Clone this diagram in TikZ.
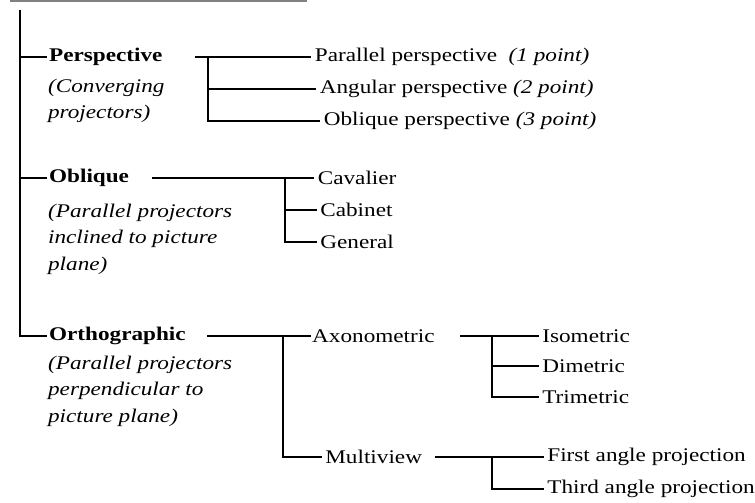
\documentclass[tikz,border=0pt]{standalone}
\usepackage{fontspec}
\setmainfont{Liberation Serif}[FakeStretch=1.2]

\begin{document}
\begin{tikzpicture}[
  font=\fontsize{11}{15}\selectfont,
  head/.style={font=\fontsize{11}{15}\selectfont\bfseries, anchor=west, inner sep=1pt},
  note/.style={font=\fontsize{11}{15}\selectfont\itshape, anchor=north west, align=left, inner sep=1pt},
  leaf/.style={anchor=west, inner sep=2pt},
  branch/.style={line width=1.4pt}
]
\useasboundingbox (0,0) rectangle (15.10,10.04);
\draw[gray, line width=0.6pt] (0.20,10.02) -- (6.14,10.02);

\node[head] (persp) at (0.94,8.90) {Perspective};
\node[note] (perspnote) at (0.92,8.50) {(Converging\\projectors)};
\node[head] (obl) at (0.94,6.48) {Oblique};
\node[note] (oblnote) at (0.92,6.00) {(Parallel projectors\\inclined to picture\\plane)};
\node[head] (ortho) at (0.94,3.32) {Orthographic};
\node[note] (orthonote) at (0.92,2.96) {(Parallel projectors\\perpendicular to\\picture plane)};

\node[leaf] (par) at (6.22,8.90) {Parallel perspective \ \textit{(1 point)}};
\node[leaf] (ang) at (6.32,8.26) {Angular perspective \textit{(2 point)}};
\node[leaf] (oblp) at (6.40,7.62) {Oblique perspective \textit{(3 point)}};
\node[leaf] (cav) at (6.28,6.48) {Cavalier};
\node[leaf] (cab) at (6.33,5.84) {Cabinet};
\node[leaf] (gen) at (6.33,5.20) {General};
\node[leaf, inner sep=0.5pt] (axo) at (6.22,3.32) {Axonometric};
\node[leaf] (multi) at (6.43,0.90) {Multiview};
\node[leaf] (iso) at (10.77,3.32) {Isometric};
\node[leaf] (dim) at (10.77,2.72) {Dimetric};
\node[leaf] (tri) at (10.77,2.10) {Trimetric};
\node[leaf] (first) at (10.87,0.90) {First angle projection};
\node[leaf] (third) at (10.87,0.26) {Third angle projection};

\coordinate (root) at (0.40,9.84);
\coordinate (pstart) at (3.90,8.90);
\coordinate (pfork) at (4.16,8.90);
\coordinate (ostart) at (3.04,6.48);
\coordinate (ofork) at (5.70,6.48);
\coordinate (xstart) at (4.14,3.32);
\coordinate (xfork) at (5.66,3.32);
\coordinate (astart) at (9.20,3.32);
\coordinate (afork) at (9.84,3.32);
\coordinate (mstart) at (8.70,0.90);
\coordinate (mfork) at (9.84,0.90);

\draw[branch] (root) |- (persp.west);
\draw[branch] (root) |- (obl.west);
\draw[branch] (root) |- (ortho.west);
\draw[branch] (pstart) -- (par.west);
\draw[branch] (pfork) |- (ang.west);
\draw[branch] (pfork) |- (oblp.west);
\draw[branch] (ostart) -- (cav.west);
\draw[branch] (ofork) |- (cab.west);
\draw[branch] (ofork) |- (gen.west);
\draw[branch] (xstart) -- (axo.west);
\draw[branch] (xfork) |- (multi.west);
\draw[branch] (astart) -- (iso.west);
\draw[branch] (afork) |- (dim.west);
\draw[branch] (afork) |- (tri.west);
\draw[branch] (mstart) -- (first.west);
\draw[branch] (mfork) |- (third.west);
\end{tikzpicture}
\end{document}
